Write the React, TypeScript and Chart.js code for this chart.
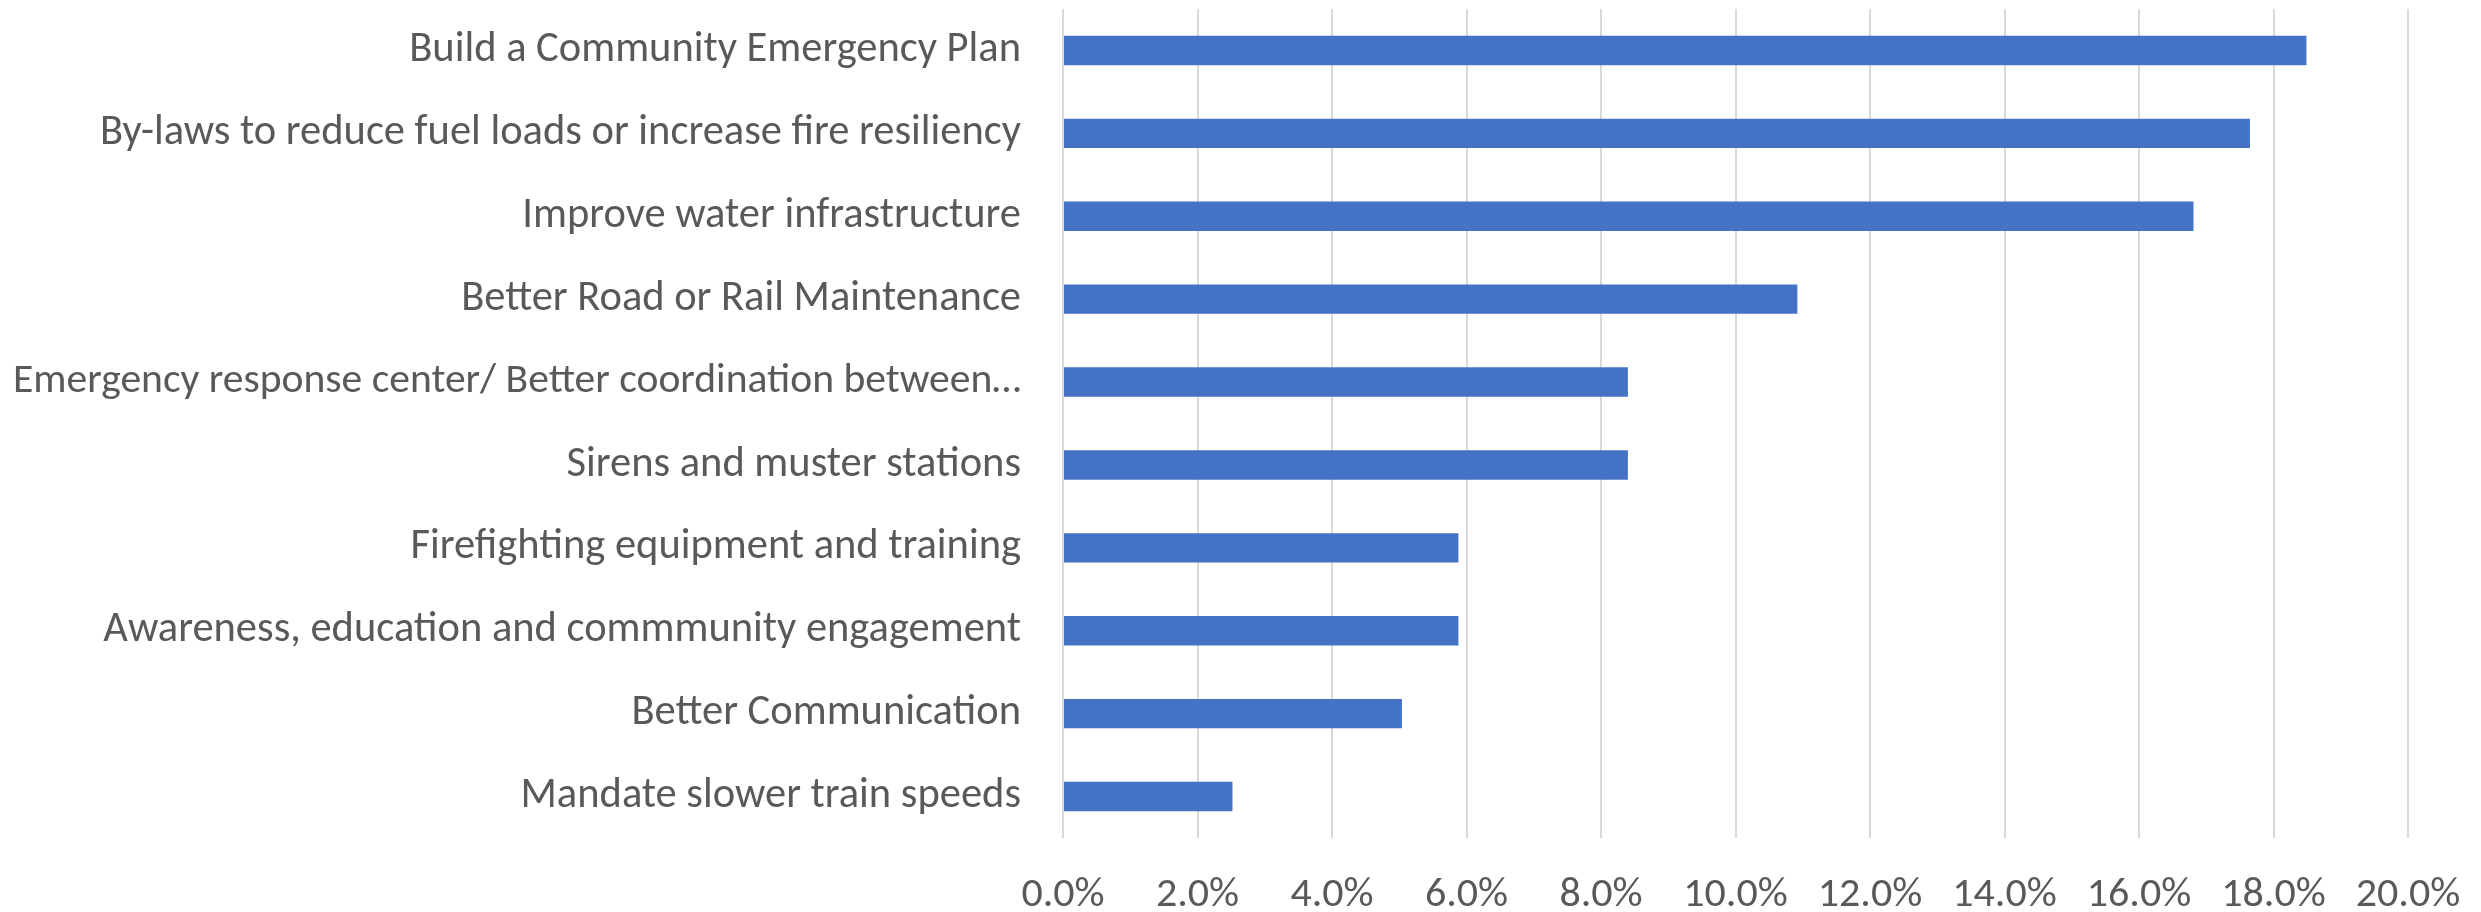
import React, { useEffect, useRef } from "react";
import { Chart, registerables } from "chart.js";

Chart.register(...registerables);

const categories: string[] = [
  "Build a Community Emergency Plan",
  "By-laws to reduce fuel loads or increase fire resiliency",
  "Improve water infrastructure",
  "Better Road or Rail Maintenance",
  "Emergency response center/ Better coordination between…",
  "Sirens and muster stations",
  "Firefighting equipment and training",
  "Awareness, education and commmunity engagement",
  "Better Communication",
  "Mandate slower train speeds",
];

const values: number[] = [18.49, 17.65, 16.81, 10.92, 8.4, 8.4, 5.88, 5.88, 5.04, 2.52];

const xMin = 0;
const xMax = 20;
const xStep = 2;

const W = 2481;
const H = 912;

export default function App() {
  const ref = useRef<HTMLCanvasElement | null>(null);

  useEffect(() => {
    document.body.style.margin = "0";
    const canvas = ref.current;
    if (!canvas) return;
    const fontFamily = "Carlito, Lato, 'Liberation Sans', sans-serif";
    const chart = new Chart(canvas, {
      type: "bar",
      data: {
        labels: categories,
        datasets: [
          {
            data: values,
            backgroundColor: "#4472C4",
            borderWidth: 0,
            categoryPercentage: 1,
            barPercentage: 0.355,
          },
        ],
      },
      options: {
        indexAxis: "y",
        responsive: false,
        animation: false,
        layout: { padding: { top: 9, right: 73, left: 0, bottom: 0 } },
        plugins: {
          legend: { display: false },
          tooltip: { enabled: false },
        },
        scales: {
          x: {
            min: xMin,
            max: xMax,
            ticks: {
              stepSize: xStep,
              color: "#595959",
              font: { family: fontFamily, size: 42 },
              padding: 32,
              callback: (v: any) => Number(v).toFixed(1) + "%",
            },
            grid: { color: "#d9d9d9", lineWidth: 2, drawTicks: false },
            border: { display: false },
            afterFit: (s: any) => {
              s.height = H - 838;
              s.paddingLeft = 0;
              s.paddingRight = 0;
            },
          },
          y: {
            ticks: {
              color: "#595959",
              font: (ctx: any) => ({
                family: fontFamily,
                size: categories[ctx.index] && categories[ctx.index].endsWith("…") ? 41.6 : 42.5,
              }),
              padding: 42,
              autoSkip: false,
            },
            grid: { display: false, drawTicks: false },
            border: { display: false },
            afterFit: (s: any) => {
              s.width = 1063;
              s.paddingTop = 0;
              s.paddingBottom = 0;
            },
          },
        },
      },
    });
    return () => chart.destroy();
  }, []);

  return (
    <div style={{ width: W, height: H, background: "#fff" }}>
      <canvas ref={ref} width={W} height={H} style={{ width: W, height: H, display: "block" }} />
    </div>
  );
}
